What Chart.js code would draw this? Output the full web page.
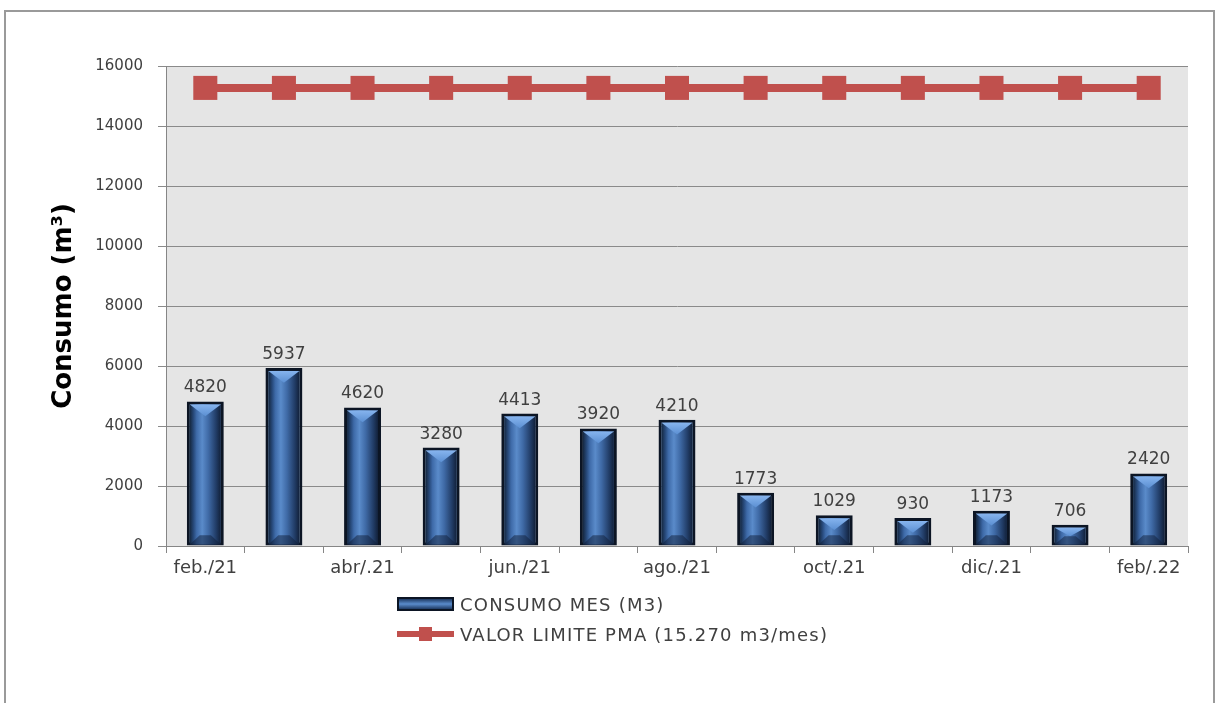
<!DOCTYPE html>
<html>
<head>
<meta charset="utf-8">
<script src="https://cdn.jsdelivr.net/npm/chart.js@4.4.0/dist/chart.umd.min.js"></script>
<style>
  html, body { margin: 0; padding: 0; background: #fff; }
  #wrap { position: relative; width: 1217px; height: 703px; overflow: hidden; }
  #frame { position: absolute; left: 4px; top: 10px; width: 1211px; height: 720px;
           border: 2px solid #9a9a9a; box-sizing: border-box; }
  #c { position: absolute; left: 0; top: 0; }
  #legend { position: absolute; left: 397px; top: 589px; font: 18px "DejaVu Sans", sans-serif;
            color: #404040; letter-spacing: 1.2px; white-space: nowrap; }
  #legend .item { display: flex; align-items: center; height: 30px; }
  #legend .item canvas { margin-right: 6px; }
</style>
</head>
<body>
<div id="wrap">
  <div id="frame"></div>
  <canvas id="c" width="1217" height="703"></canvas>
  <div id="legend"></div>
</div>
<script>
// Monthly water consumption against the permitted limit
const months = ['feb./21', 'mar./21', 'abr/.21', 'may./21', 'jun./21', 'jul./21', 'ago./21',
                'sep./21', 'oct/.21', 'nov./21', 'dic/.21', 'ene./22', 'feb/.22'];
const consumo = [4820, 5937, 4620, 3280, 4413, 3920, 4210, 1773, 1029, 930, 1173, 706, 2420];
const limite = [15270, 15270, 15270, 15270, 15270, 15270, 15270, 15270, 15270, 15270, 15270, 15270, 15270];
const yTicks = [0, 2000, 4000, 6000, 8000, 10000, 12000, 14000, 16000];

const serieConsumo = 'CONSUMO MES (M3)';
const serieLimite = 'VALOR LIMITE PMA (15.270 m3/mes)';

const BAR_BORDER = '#0c1524';
const LIMIT_RED = '#c0504d';

// Grey plot background
const plotBackground = {
  id: 'plotBackground',
  beforeDraw(chart) {
    const { ctx, chartArea: a } = chart;
    ctx.save();
    ctx.fillStyle = '#e5e5e5';
    ctx.fillRect(a.left, a.top, a.right - a.left, a.bottom - a.top);
    ctx.restore();
  }
};

// Bevelled shading over each bar, using the bar elements laid out by the scales
const barBevel = {
  id: 'barBevel',
  afterDatasetDraw(chart, args) {
    if (args.index !== 0) return;
    const ctx = chart.ctx;
    args.meta.data.forEach((bar) => {
      const { x, y, base, width } = bar.getProps(['x', 'y', 'base', 'width'], true);
      const bw = 3;
      const l = x - width / 2 + bw, r = x + width / 2 - bw;
      const t = y + bw, b = base - 1;
      const w = r - l, h = b - t;
      if (h <= 0) return;
      ctx.save();
      const g = ctx.createLinearGradient(l, 0, r, 0);
      g.addColorStop(0, '#15273f');
      g.addColorStop(0.12, '#27497a');
      g.addColorStop(0.22, '#3e6aa8');
      g.addColorStop(0.40, '#5a8bca');
      g.addColorStop(0.60, '#3f6aa6');
      g.addColorStop(0.85, '#213c66');
      g.addColorStop(1, '#12213a');
      ctx.fillStyle = g;
      ctx.fillRect(l, t, w, h);
      // top facet
      const th = Math.min(w * 0.38, h / 2);
      const tg = ctx.createLinearGradient(0, t, 0, t + th);
      tg.addColorStop(0, '#86b4ee');
      tg.addColorStop(1, '#5b8fd2');
      ctx.fillStyle = tg;
      ctx.beginPath();
      ctx.moveTo(l, t);
      ctx.lineTo(r, t);
      ctx.lineTo(x, t + th);
      ctx.closePath();
      ctx.fill();
      // bottom facet
      const bh = Math.min(w * 0.3, h / 2);
      ctx.fillStyle = 'rgba(15, 30, 55, 0.5)';
      ctx.beginPath();
      ctx.moveTo(l, b);
      ctx.lineTo(r, b);
      ctx.lineTo(x + w * 0.18, b - bh);
      ctx.lineTo(x - w * 0.18, b - bh);
      ctx.closePath();
      ctx.fill();
      ctx.restore();
    });
  }
};

// Value labels above the bars
const valueLabels = {
  id: 'valueLabels',
  afterDatasetsDraw(chart) {
    const ctx = chart.ctx;
    const meta = chart.getDatasetMeta(0);
    const values = chart.data.datasets[0].data;
    ctx.save();
    ctx.font = '17px "DejaVu Sans", sans-serif';
    ctx.fillStyle = '#404040';
    ctx.textAlign = 'center';
    ctx.textBaseline = 'bottom';
    meta.data.forEach((bar, i) => {
      const { x, y } = bar.getProps(['x', 'y'], true);
      ctx.fillText(String(values[i]), x, y - 5);
    });
    ctx.restore();
  }
};

const chart = new Chart(document.getElementById('c'), {
  data: {
    labels: months,
    datasets: [
      {
        type: 'bar',
        label: serieConsumo,
        data: consumo,
        backgroundColor: '#3a659b',
        borderColor: BAR_BORDER,
        borderWidth: 3,
        borderSkipped: false,
        categoryPercentage: 1,
        barPercentage: 0.47,
        order: 1
      },
      {
        type: 'line',
        label: serieLimite,
        data: limite,
        borderColor: LIMIT_RED,
        backgroundColor: LIMIT_RED,
        borderWidth: 8,
        pointStyle: 'rect',
        pointRadius: 17,
        pointHoverRadius: 17,
        pointBorderWidth: 0,
        tension: 0,
        order: 0
      }
    ]
  },
  options: {
    responsive: false,
    animation: false,
    devicePixelRatio: 1,
    events: [],
    layout: { padding: { left: 45, right: 29, top: 66, bottom: 117 } },
    plugins: {
      legend: { display: false },
      tooltip: { enabled: false }
    },
    scales: {
      x: {
        offset: true,
        grid: { offset: true, drawOnChartArea: false, drawTicks: true, tickLength: 7, color: '#868686' },
        border: { display: true, color: '#868686', width: 1 },
        ticks: {
          autoSkip: false,
          maxRotation: 0,
          padding: 5,
          color: '#404040',
          font: { family: '"DejaVu Sans", sans-serif', size: 18 },
          callback: (v, i) => (i % 2 === 0 ? months[i] : '')
        },
        afterFit: (s) => { s.height = 40; }
      },
      y: {
        min: 0,
        max: 16000,
        afterBuildTicks: (s) => { s.ticks = yTicks.map((v) => ({ value: v })); },
        grid: { color: '#8a8a8a', tickLength: 8, lineWidth: 1 },
        border: { display: true, color: '#868686', width: 1 },
        ticks: {
          padding: 15,
          color: '#404040',
          font: { family: '"DejaVu Sans", sans-serif', size: 15 },
          callback: (v) => String(v)
        },
        title: {
          display: true,
          text: 'Consumo (m³)',
          color: '#000',
          font: { family: '"DejaVu Sans", sans-serif', size: 26, weight: 'bold' },
          padding: { top: 4, bottom: 4 }
        },
        afterFit: (s) => { s.width = 121; }
      }
    }
  },
  plugins: [plotBackground, barBevel, valueLabels]
});

// Legend built from the chart's datasets, stacked in a column below the plot
function drawSwatch(cv, ds) {
  const c = cv.getContext('2d');
  if (ds.type === 'bar') {
    c.fillStyle = BAR_BORDER;
    c.fillRect(0, 1, 57, 14);
    const g = c.createLinearGradient(0, 3, 0, 13);
    g.addColorStop(0, '#1f3a63');
    g.addColorStop(0.5, '#5a8ccc');
    g.addColorStop(1, '#1f3a63');
    c.fillStyle = g;
    c.fillRect(2, 3, 53, 10);
  } else {
    c.fillStyle = ds.borderColor;
    c.fillRect(0, 5, 57, 6);
    c.fillRect(22, 1, 13, 14);
  }
}
const legendEl = document.getElementById('legend');
chart.data.datasets.forEach((ds) => {
  const item = document.createElement('div');
  item.className = 'item';
  const cv = document.createElement('canvas');
  cv.width = 57; cv.height = 16;
  drawSwatch(cv, ds);
  const span = document.createElement('span');
  span.textContent = ds.label;
  item.appendChild(cv);
  item.appendChild(span);
  legendEl.appendChild(item);
});
</script>
</body>
</html>
